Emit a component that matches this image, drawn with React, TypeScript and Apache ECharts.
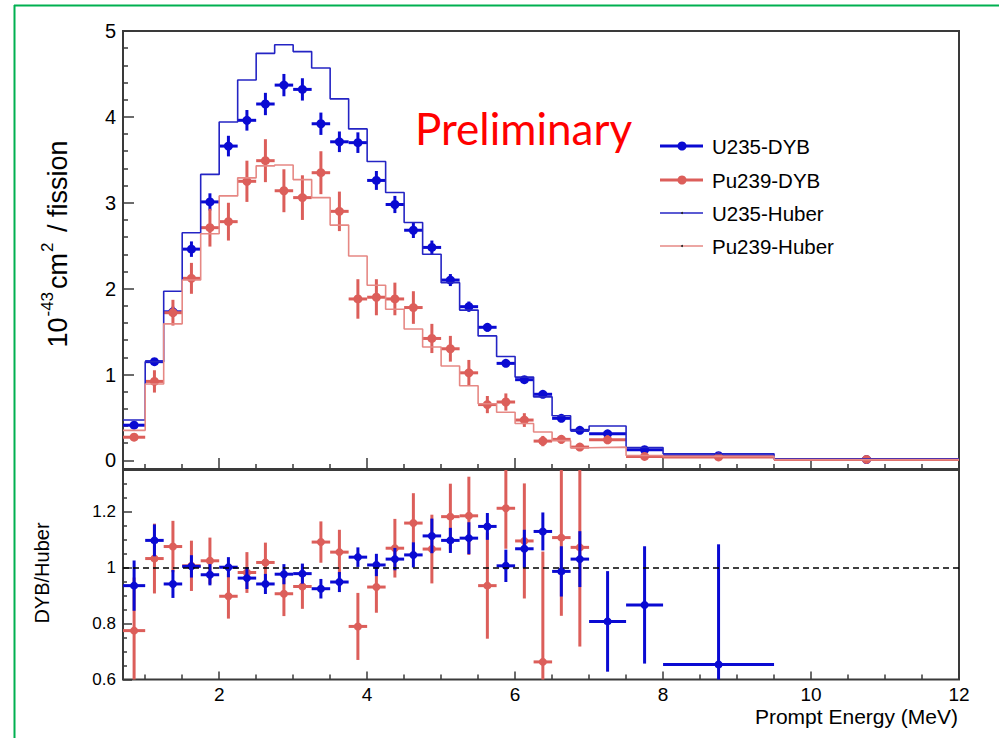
import React, { useEffect, useRef } from "react";
import * as echarts from "echarts";

// ---------- data ----------
const binEdges = [0.7, 1.0, 1.25, 1.5, 1.75, 2.0, 2.25, 2.5, 2.75, 3.0, 3.25, 3.5, 3.75, 4.0, 4.25, 4.5, 4.75, 5.0, 5.25, 5.5, 5.75, 6.0, 6.25, 6.5, 6.75, 7.0, 7.5, 8.0, 9.5, 12.0];

const huberU235 = [0.47, 1.15, 1.97, 2.65, 3.33, 3.94, 4.43, 4.74, 4.84, 4.76, 4.57, 4.21, 3.86, 3.48, 3.12, 2.77, 2.40, 2.07, 1.75, 1.45, 1.21, 0.97, 0.74, 0.52, 0.35, 0.40, 0.15, 0.078, 0.015];
const huberPu239 = [0.35, 0.89, 1.59, 2.10, 2.64, 3.08, 3.29, 3.43, 3.44, 3.27, 3.06, 2.74, 2.38, 2.04, 1.76, 1.53, 1.32, 1.10, 0.87, 0.66, 0.56, 0.43, 0.33, 0.23, 0.148, 0.155, 0.058, 0.047, 0.008];

const dybU235 = [0.41, 1.15, 1.73, 2.46, 3.01, 3.66, 3.96, 4.15, 4.37, 4.32, 3.92, 3.71, 3.70, 3.26, 2.98, 2.68, 2.48, 2.10, 1.79, 1.55, 1.13, 0.94, 0.77, 0.49, 0.35, 0.31, 0.125, 0.055, 0.01];
const dybU235Err = [0.03, 0.04, 0.06, 0.09, 0.10, 0.12, 0.12, 0.13, 0.13, 0.13, 0.13, 0.12, 0.12, 0.11, 0.10, 0.09, 0.08, 0.07, 0.06, 0.05, 0.04, 0.03, 0.03, 0.02, 0.02, 0.02, 0.01, 0.01, 0.005];

const dybPu239 = [0.27, 0.92, 1.72, 2.12, 2.71, 2.78, 3.25, 3.49, 3.14, 3.06, 3.35, 2.90, 1.88, 1.90, 1.88, 1.78, 1.42, 1.30, 1.02, 0.65, 0.68, 0.47, 0.225, 0.245, 0.155, 0.24, 0.047, 0.04, 0.012];
const dybPu239Err = [0.04, 0.13, 0.15, 0.18, 0.22, 0.22, 0.24, 0.25, 0.25, 0.26, 0.25, 0.23, 0.23, 0.21, 0.19, 0.19, 0.17, 0.15, 0.15, 0.10, 0.10, 0.08, 0.06, 0.05, 0.03, 0.05, 0.02, 0.02, 0.01];

const ratioU235 = [0.936, 1.098, 0.942, 1.005, 0.975, 1.002, 0.963, 0.942, 0.977, 0.979, 0.925, 0.949, 1.038, 1.010, 1.031, 1.046, 1.114, 1.098, 1.106, 1.148, 1.007, 1.068, 1.130, 0.987, 1.031, 0.808, 0.867, 0.654];
const ratioU235Err = [0.09, 0.057, 0.05, 0.04, 0.038, 0.036, 0.039, 0.036, 0.036, 0.036, 0.035, 0.036, 0.035, 0.04, 0.04, 0.045, 0.062, 0.045, 0.057, 0.048, 0.058, 0.068, 0.068, 0.09, 0.1, 0.18, 0.21, 0.43];

const ratioPu239 = [0.775, 1.033, 1.076, 1.007, 1.025, 0.898, 0.983, 1.019, 0.907, 0.933, 1.092, 1.056, 0.79, 0.931, 1.07, 1.16, 1.067, 1.183, 1.186, 0.936, 1.213, 1.096, 0.663, 1.108, 1.073];
const ratioPu239Err = [0.19, 0.125, 0.092, 0.09, 0.083, 0.08, 0.073, 0.071, 0.08, 0.08, 0.074, 0.08, 0.12, 0.092, 0.105, 0.107, 0.123, 0.118, 0.14, 0.19, 0.145, 0.206, 0.395, 0.28, 0.355];

const ratioReference = 1;

const xMajorTicks = [2, 4, 6, 8, 10, 12];
const xMinorTicks = [1, 1.5, 2.5, 3, 3.5, 4.5, 5, 5.5, 6.5, 7, 7.5, 8.5, 9, 9.5, 10.5, 11, 11.5];
const yTopTicks = [0, 1, 2, 3, 4, 5];
const yTopMinorTicks = [0.2, 0.4, 0.6, 0.8, 1.2, 1.4, 1.6, 1.8, 2.2, 2.4, 2.6, 2.8, 3.2, 3.4, 3.6, 3.8, 4.2, 4.4, 4.6, 4.8];
const yRatioTicks = [0.6, 0.8, 1, 1.2];
const yRatioMinorTicks = [0.65, 0.7, 0.75, 0.85, 0.9, 0.95, 1.05, 1.1, 1.15, 1.25, 1.3, 1.35];

const legendNames = ["U235-DYB", "Pu239-DYB", "U235-Huber", "Pu239-Huber"];

// ---------- styling ----------
const FONT = "'Liberation Sans', Arial, Helvetica, sans-serif";
const BLUE = "#0a0ad2";
const BLUE_LINE = "#2424c4";
const RED = "#dc5e5a";
const RED_LINE = "#e68884";
const FRAME = "#3a3a3a";

const stepData = (vals: number[]) => [
  ...vals.map((v, i) => [binEdges[i], v]),
  [binEdges[binEdges.length - 1], vals[vals.length - 1]],
];
const pointData = (vals: number[], errs: number[]) =>
  vals.map((v, i) => [(binEdges[i] + binEdges[i + 1]) / 2, v, binEdges[i], binEdges[i + 1], errs[i]]);

function errRender(color: string, lw: number, r: number) {
  return (params: any, api: any) => {
    const cs = params.coordSys;
    const x = api.value(0), y = api.value(1), xl = api.value(2), xh = api.value(3), e = api.value(4);
    const c = api.coord([x, y]);
    const l = api.coord([xl, y]);
    const h = api.coord([xh, y]);
    const t = api.coord([x, y + e]);
    const b = api.coord([x, y - e]);
    const top = Math.max(t[1], cs.y);
    const bot = Math.min(b[1], cs.y + cs.height);
    return {
      type: "group",
      children: [
        { type: "line", shape: { x1: Math.max(l[0], cs.x), y1: c[1], x2: Math.min(h[0], cs.x + cs.width), y2: c[1] }, style: { stroke: color, lineWidth: lw } },
        { type: "line", shape: { x1: c[0], y1: top, x2: c[0], y2: bot }, style: { stroke: color, lineWidth: lw } },
        { type: "circle", shape: { cx: c[0], cy: c[1], r }, style: { fill: color } },
      ],
    };
  };
}

function xAxisDef(grid: number, major: boolean, labels: boolean) {
  return {
    gridIndex: grid,
    type: "value",
    min: 0.7,
    max: 12,
    position: "bottom",
    axisLine: { show: false, onZero: false },
    splitLine: { show: false },
    axisTick: {
      show: true,
      inside: true,
      length: major ? (grid === 0 ? 11 : 8) : 5,
      customValues: major ? xMajorTicks : xMinorTicks,
      lineStyle: { color: FRAME, width: 1.5 },
    },
    axisLabel: labels
      ? { show: true, customValues: xMajorTicks, fontSize: 19, color: "#000", fontFamily: FONT, margin: 5 }
      : { show: false },
  };
}

function yAxisDef(grid: number, min: number, max: number, ticks: number[], len: number, labels: boolean, fontSize: number) {
  return {
    gridIndex: grid,
    type: "value",
    min,
    max,
    position: "left",
    axisLine: { show: false, onZero: false },
    splitLine: { show: false },
    axisTick: { show: true, inside: true, length: len, customValues: ticks, lineStyle: { color: FRAME, width: 1.5 } },
    axisLabel: labels
      ? { show: true, customValues: ticks, fontSize, color: "#000", fontFamily: FONT, margin: 7, formatter: (v: number) => String(v) }
      : { show: false },
  };
}

export default function App() {
  const ref = useRef<HTMLDivElement>(null);

  useEffect(() => {
    if (!ref.current) return;
    const chart = echarts.init(ref.current, null, { renderer: "svg" });

    const legendY = [146, 180, 213, 246];
    const legendColors = [BLUE, RED, BLUE_LINE, RED_LINE];
    const legendGraphics: any[] = [];
    legendNames.forEach((name, i) => {
      const isDyb = i < 2;
      legendGraphics.push({
        type: "line",
        shape: { x1: 660, y1: legendY[i], x2: 703, y2: legendY[i] },
        style: { stroke: legendColors[i], lineWidth: isDyb ? 3 : 1.5 },
      });
      legendGraphics.push({
        type: "circle",
        shape: { cx: 682, cy: legendY[i], r: isDyb ? 4.5 : 1 },
        style: { fill: isDyb ? legendColors[i] : "#222" },
      });
      legendGraphics.push({
        type: "text",
        x: 712,
        y: legendY[i],
        style: { text: name, fontSize: 20.5, fontFamily: FONT, fill: "#000", verticalAlign: "middle", align: "left" },
      });
    });

    const option: any = {
      animation: false,
      backgroundColor: "#ffffff",
      grid: [
        { left: 123, top: 31, width: 836, height: 438, show: true, borderColor: FRAME, borderWidth: 2, backgroundColor: "transparent", outerBoundsMode: "none" },
        { left: 123, top: 470, width: 836, height: 209.5, show: true, borderColor: FRAME, borderWidth: 2, backgroundColor: "transparent", outerBoundsMode: "none" },
      ],
      xAxis: [
        xAxisDef(0, true, false),
        xAxisDef(0, false, false),
        xAxisDef(1, true, true),
        xAxisDef(1, false, false),
      ],
      yAxis: [
        yAxisDef(0, -0.1, 5, yTopTicks, 11, true, 20),
        yAxisDef(0, -0.1, 5, yTopMinorTicks, 5, false, 20),
        yAxisDef(1, 0.6, 1.35, yRatioTicks, 9, true, 17),
        yAxisDef(1, 0.6, 1.35, yRatioMinorTicks, 4, false, 17),
      ],
      series: [
        {
          name: "U235-Huber",
          type: "line",
          step: "end",
          xAxisIndex: 0,
          yAxisIndex: 0,
          showSymbol: false,
          data: stepData(huberU235),
          lineStyle: { color: BLUE_LINE, width: 1.6 },
          itemStyle: { color: BLUE_LINE },
        },
        {
          name: "Pu239-Huber",
          type: "line",
          step: "end",
          xAxisIndex: 0,
          yAxisIndex: 0,
          showSymbol: false,
          data: stepData(huberPu239),
          lineStyle: { color: RED_LINE, width: 1.6 },
          itemStyle: { color: RED_LINE },
        },
        {
          name: "U235-DYB",
          type: "custom",
          xAxisIndex: 0,
          yAxisIndex: 0,
          data: pointData(dybU235, dybU235Err),
          encode: { x: 0, y: 1 },
          renderItem: errRender(BLUE, 3, 4.5),
        },
        {
          name: "Pu239-DYB",
          type: "custom",
          xAxisIndex: 0,
          yAxisIndex: 0,
          data: pointData(dybPu239, dybPu239Err),
          encode: { x: 0, y: 1 },
          renderItem: errRender(RED, 3, 4.5),
        },
        {
          name: "Pu239 ratio",
          type: "custom",
          xAxisIndex: 2,
          yAxisIndex: 2,
          data: pointData(ratioPu239, ratioPu239Err),
          encode: { x: 0, y: 1 },
          renderItem: errRender(RED, 3, 4),
          markLine: {
            silent: true,
            symbol: "none",
            label: { show: false },
            lineStyle: { color: "#000", type: [6, 4], width: 1.5 },
            data: [{ yAxis: ratioReference }],
          },
        },
        {
          name: "U235 ratio",
          type: "custom",
          xAxisIndex: 2,
          yAxisIndex: 2,
          data: pointData(ratioU235, ratioU235Err),
          encode: { x: 0, y: 1 },
          renderItem: errRender(BLUE, 3, 4),
        },
      ],
      graphic: [
        { type: "line", shape: { x1: 14, y1: 5.5, x2: 999, y2: 5.5 }, style: { stroke: "#00b050", lineWidth: 2 } },
        { type: "line", shape: { x1: 14.5, y1: 5, x2: 14.5, y2: 738 }, style: { stroke: "#00b050", lineWidth: 2 } },
        {
          type: "text",
          x: 415,
          y: 128,
          style: { text: "Preliminary", fontSize: 44, fontFamily: "Lato, 'Open Sans', sans-serif", fill: "#ff0000", verticalAlign: "middle", align: "left" },
        },
        {
          type: "text",
          x: 55,
          y: 244,
          rotation: Math.PI / 2,
          style: {
            text: "{a|10}{s|-43}{a|cm}{s|2}{a| / fission}",
            align: "center",
            verticalAlign: "middle",
            fill: "#000",
            rich: {
              a: { fontSize: 27, fontFamily: FONT, fill: "#000", lineHeight: 32, verticalAlign: "bottom" },
              s: { fontSize: 17, fontFamily: FONT, fill: "#000", lineHeight: 32, verticalAlign: "top", padding: [0, 3, 0, 1] },
            },
          },
        },
        {
          type: "text",
          x: 42,
          y: 573,
          rotation: Math.PI / 2,
          style: { text: "DYB/Huber", fontSize: 20, fontFamily: FONT, fill: "#000", align: "center", verticalAlign: "middle" },
        },
        {
          type: "text",
          x: 958,
          y: 716,
          style: { text: "Prompt Energy (MeV)", fontSize: 21, fontFamily: FONT, fill: "#000", align: "right", verticalAlign: "middle" },
        },
        ...legendGraphics,
      ],
    };

    chart.setOption(option);
    return () => chart.dispose();
  }, []);

  return (
    <div
      ref={ref}
      style={{ position: "fixed", left: 0, top: 0, width: 999, height: 738, background: "#fff" }}
    />
  );
}
